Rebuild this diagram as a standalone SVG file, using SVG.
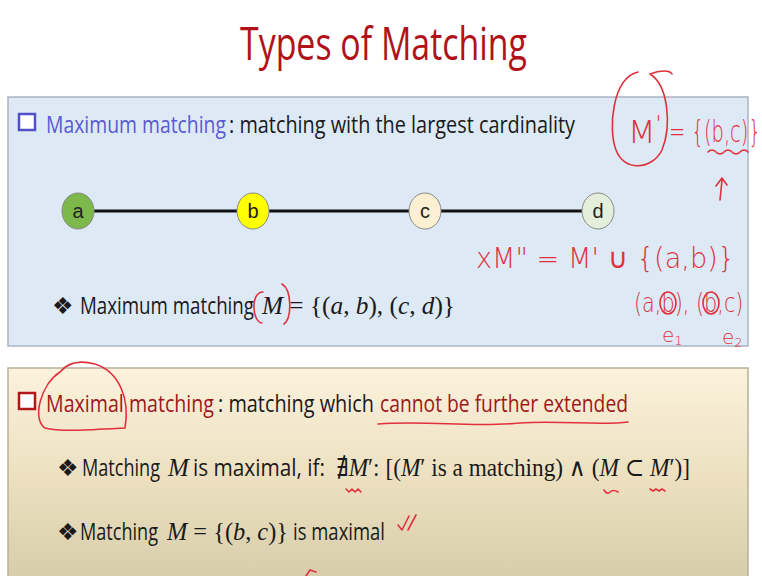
<svg xmlns="http://www.w3.org/2000/svg" width="762" height="576" viewBox="0 0 762 576">
<defs>
<linearGradient id="tan" x1="0" y1="0" x2="0" y2="1">
<stop offset="0" stop-color="#fcf2dd"/>
<stop offset="0.5" stop-color="#ece0c0"/>
<stop offset="1" stop-color="#d6cba8"/>
</linearGradient>
<style>
.s{font-family:"Open Sans","Lato","Liberation Sans",sans-serif;font-size:24px;fill:#1a1a1a}
.m{font-family:"Liberation Serif","DejaVu Serif",serif;font-size:25px;fill:#1a1a1a}
.i{font-style:italic}
.lbl{font-family:"Liberation Sans","Open Sans",sans-serif;font-size:20px;fill:#222;text-anchor:middle}
.hw{font-family:"DejaVu Sans","Liberation Sans",sans-serif;fill:#e0303c;font-weight:300}
.ink{fill:none;stroke:#e0303c;stroke-width:1.6;stroke-linecap:round;stroke-linejoin:round}
.edge{stroke:#111;stroke-width:3}
.node{stroke:#8a8a8a;stroke-width:1}
</style>
</defs>
<rect width="762" height="576" fill="#ffffff"/>
<text x="240" y="60" font-family="Open Sans, Lato, sans-serif" font-size="46" fill="#b01218" textLength="287" lengthAdjust="spacingAndGlyphs">Types of Matching</text>

<g id="box-maximum">
<rect x="8" y="97" width="740" height="249" fill="#dde9f5" stroke="#a9b4c0" stroke-width="1.5"/>
<rect x="19" y="114" width="16" height="16" fill="#ffffff" stroke="#5050c8" stroke-width="2.5"/>
<text class="s" x="46" y="133" style="fill:#5a5ad2" textLength="180" lengthAdjust="spacingAndGlyphs">Maximum matching</text>
<text class="s" x="229" y="133" textLength="346" lengthAdjust="spacingAndGlyphs">: matching with the largest cardinality</text>
<text class="s" x="52" y="314" font-size="18">❖</text>
<text class="s" x="80" y="314" textLength="174" lengthAdjust="spacingAndGlyphs">Maximum matching</text>
<text class="m" x="262" y="314" textLength="193" lengthAdjust="spacingAndGlyphs"><tspan class="i">M</tspan>   = {(<tspan class="i">a</tspan>, <tspan class="i">b</tspan>),  (<tspan class="i">c</tspan>, <tspan class="i">d</tspan>)}</text>
</g>

<g id="connectors">
<line class="edge" x1="94" y1="211" x2="237" y2="211"/>
<line class="edge" x1="269" y1="211" x2="409" y2="211"/>
<line class="edge" x1="441" y1="211" x2="582" y2="211"/>
</g>
<g id="node-a"><ellipse class="node" cx="78" cy="211" rx="16" ry="18" fill="#7cb84a"/><text class="lbl" x="78" y="218">a</text></g>
<g id="node-b"><ellipse class="node" cx="253" cy="211" rx="16" ry="18" fill="#ffff00"/><text class="lbl" x="253" y="218">b</text></g>
<g id="node-c"><ellipse class="node" cx="425" cy="211" rx="16" ry="18" fill="#fdf0d2"/><text class="lbl" x="425" y="218">c</text></g>
<g id="node-d"><ellipse class="node" cx="598" cy="211" rx="16" ry="18" fill="#e3eedb"/><text class="lbl" x="598" y="218">d</text></g>

<g id="box-maximal">
<rect x="8" y="368" width="740" height="220" fill="url(#tan)" stroke="#b8b09a" stroke-width="1.5"/>
<rect x="19" y="393" width="16" height="16" fill="#ffffff" stroke="#b01818" stroke-width="2.5"/>
<text class="s" x="46" y="412" style="fill:#a01818" textLength="168" lengthAdjust="spacingAndGlyphs">Maximal matching</text>
<text class="s" x="218" y="412" textLength="156" lengthAdjust="spacingAndGlyphs">: matching which</text>
<text class="s" x="380" y="412" style="fill:#a01818" textLength="248" lengthAdjust="spacingAndGlyphs">cannot be further extended</text>
<text class="s" x="57" y="476" font-size="18">❖</text>
<text class="s" x="82" y="476" textLength="78" lengthAdjust="spacingAndGlyphs">Matching</text>
<text class="m i" x="168" y="476" font-size="24">M</text>
<text class="s" x="193" y="476" textLength="132" lengthAdjust="spacingAndGlyphs">is maximal, if:</text>
<text class="m" x="336" y="476" textLength="354" lengthAdjust="spacingAndGlyphs">∄<tspan class="i">M</tspan>′: [(<tspan class="i">M</tspan>′ is a matching) ∧ (<tspan class="i">M</tspan> ⊂ <tspan class="i">M</tspan>′)]</text>
<text class="s" x="57" y="540" font-size="18">❖</text>
<text class="s" x="80" y="540" textLength="78" lengthAdjust="spacingAndGlyphs">Matching</text>
<text class="m" x="167" y="540" textLength="121" lengthAdjust="spacingAndGlyphs"><tspan class="i">M</tspan> = {(<tspan class="i">b</tspan>, <tspan class="i">c</tspan>)}</text>
<text class="s" x="293" y="540" textLength="92" lengthAdjust="spacingAndGlyphs">is maximal</text>
</g>

<g id="annotations">
<path class="ink" d="M638,72 C612,78 608,130 616,150 C624,172 652,170 662,150 C672,125 668,85 650,74 C660,70 670,70 672,74"/>
<text class="hw" x="628" y="143" font-size="32">M<tspan font-size="22" dy="-12">'</tspan></text>
<text class="hw" transform="translate(669,142) scale(0.65,1)" font-size="30">= {(b,c)}</text>
<path class="ink" d="M708,152 q4,-4 8,0 t8,0 t8,0 t8,0 t8,0"/>
<path class="ink" d="M720,200 L722,180 M716,186 L722,178 L727,185"/>
<path class="ink" d="M263,292 C250,292 252,322 262,323 M282,284 C292,290 292,318 284,324"/>
<path class="ink" d="M60,372 C40,385 32,420 45,428 C60,432 90,430 125,428 C130,400 120,372 95,364 C80,360 68,362 60,372"/>
<path class="ink" d="M378,424 C430,420 470,428 520,423 C560,420 600,426 628,422"/>
<path class="ink" d="M346,489 l3,3 l3,-3 l3,3 l3,-3 l3,3"/>
<path class="ink" d="M604,490 q3,5 6,2 q3,-3 8,0"/>
<path class="ink" d="M650,489 l3,2 l3,-2 l3,2 l3,-2 l3,2"/>
<path class="ink" d="M398,525 l4,5 l7,-14 M408,530 l8,-15"/>
<path class="ink" d="M306,576 l4,-6 l6,2"/>
<text class="hw" transform="translate(476,268) scale(0.97,1)" font-size="28">xM" =  M' ∪ {(a,b)}</text>
<text class="hw" transform="translate(634,312) scale(0.8,1)" font-size="26">(a,b), (b,c)</text>
<ellipse class="ink" cx="668" cy="303" rx="8" ry="11"/>
<ellipse class="ink" cx="711" cy="303" rx="8" ry="11"/>
<text class="hw" x="662" y="342" font-size="20">e<tspan font-size="13" dy="3">1</tspan></text>
<text class="hw" x="722" y="344" font-size="20">e<tspan font-size="13" dy="3">2</tspan></text>
</g>
</svg>
